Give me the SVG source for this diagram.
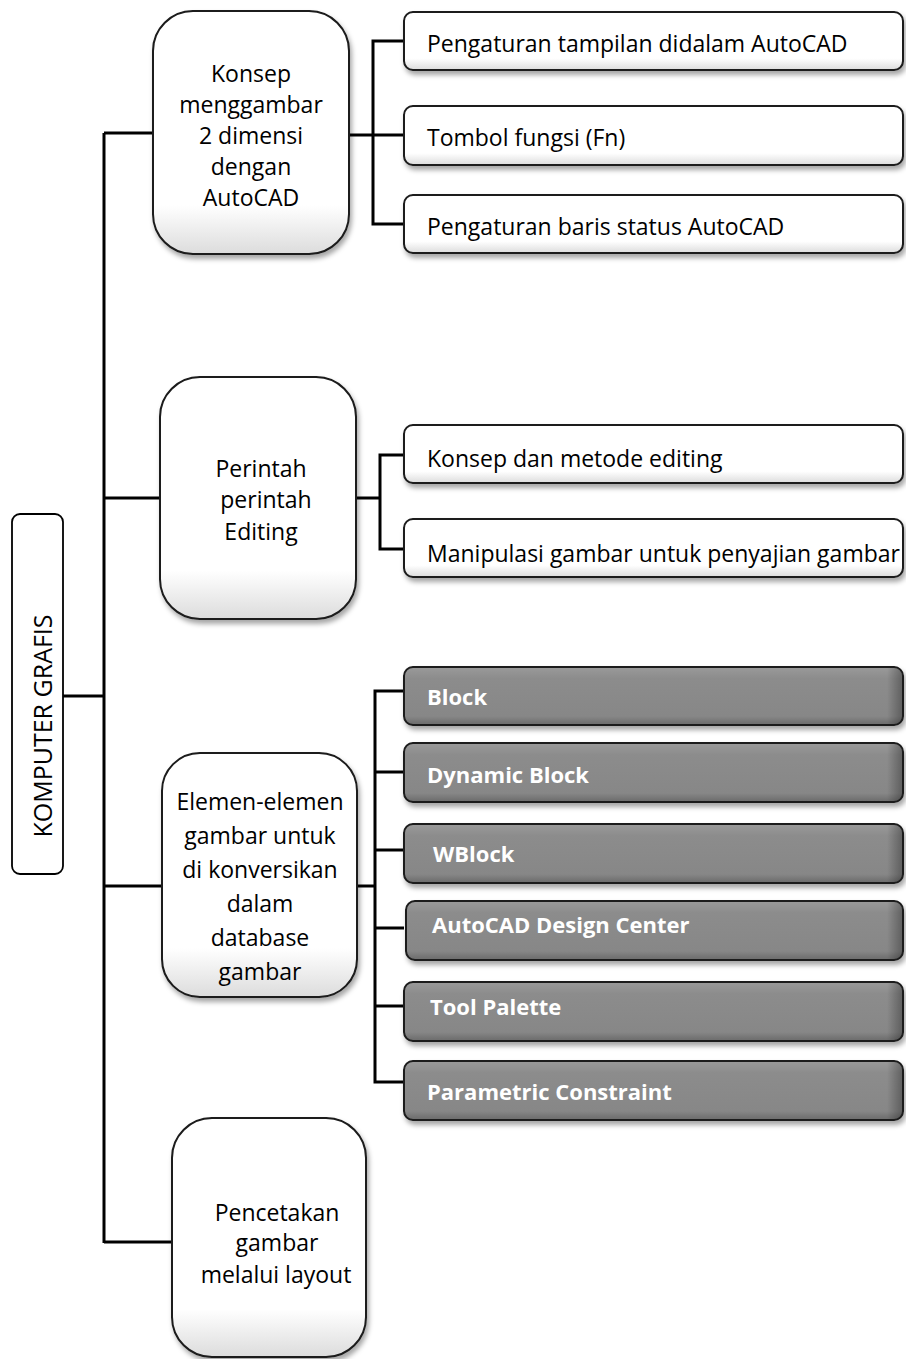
<svg xmlns="http://www.w3.org/2000/svg" width="906" height="1359" viewBox="0 0 906 1359">
<defs>
<filter id="sh" x="-10%" y="-10%" width="125%" height="130%">
<feDropShadow dx="2" dy="4" stdDeviation="2.5" flood-color="#000" flood-opacity="0.35"/>
</filter>
<linearGradient id="wg" x1="0" y1="0" x2="0" y2="1">
<stop offset="0" stop-color="#ffffff"/>
<stop offset="0.8" stop-color="#ffffff"/>
<stop offset="1" stop-color="#dcdcdc"/>
</linearGradient>
<linearGradient id="dg" x1="0" y1="0" x2="0" y2="1">
<stop offset="0" stop-color="#9a9a9a"/>
<stop offset="0.2" stop-color="#8c8c8c"/>
<stop offset="0.85" stop-color="#878787"/>
<stop offset="1" stop-color="#6a6a6a"/>
</linearGradient>
<linearGradient id="dgh" x1="0" y1="0" x2="1" y2="0">
<stop offset="0" stop-color="#000" stop-opacity="0"/>
<stop offset="0.97" stop-color="#000" stop-opacity="0"/>
<stop offset="1" stop-color="#000" stop-opacity="0.3"/>
</linearGradient>
</defs>
<style>
.t{font-family:"Open Sans","Liberation Sans",sans-serif;font-size:23px;fill:#000}
.c{text-anchor:middle}
.b{font-family:"Open Sans","Liberation Sans",sans-serif;font-size:22px;font-weight:bold;fill:#fff}
.node{fill:url(#wg);stroke:#1a1a1a;stroke-width:2;filter:url(#sh)}
.leaf{fill:url(#wg);stroke:#1a1a1a;stroke-width:2;filter:url(#sh)}
.dark{fill:url(#dg);stroke:#1a1a1a;stroke-width:2;filter:url(#sh)}
.dov{fill:url(#dgh);stroke:none}
.root{fill:#fff;stroke:#000;stroke-width:1.8}
.con{fill:none;stroke:#000;stroke-width:3}
</style>
<rect width="906" height="1359" fill="#fff"/>

<g id="connectors">
<path class="con" d="M104 133 V1243"/>
<path class="con" d="M63 696 H104"/>
<path class="con" d="M104 133 H153"/>
<path class="con" d="M104 498 H160"/>
<path class="con" d="M104 886 H162"/>
<path class="con" d="M104 1242 H172"/>
<path class="con" d="M349 135 H404"/>
<path class="con" d="M404 41 H373 V224 H404"/>
<path class="con" d="M356 498 H380"/>
<path class="con" d="M404 455 H380 V549 H404"/>
<path class="con" d="M357 886 H375"/>
<path class="con" d="M404 691 H375 V1082 H404"/>
<path class="con" d="M375 772 H404 M375 850 H404 M375 928 H404 M375 1006 H404"/>
</g>

<g id="root">
<rect class="root" x="12" y="514" width="51" height="360" rx="8"/>
<text class="t c" font-size="25" transform="translate(52 726) rotate(-90)" style="font-size:25px">KOMPUTER GRAFIS</text>
</g>

<g id="n1">
<rect class="node" x="153" y="11" width="196" height="243" rx="40"/>
<text class="t c" x="251" y="82">Konsep</text>
<text class="t c" x="251" y="113">menggambar</text>
<text class="t c" x="251" y="144">2 dimensi</text>
<text class="t c" x="251" y="175">dengan</text>
<text class="t c" x="251" y="206">AutoCAD</text>
</g>

<g id="n1a">
<rect class="leaf" x="404" y="12" width="499" height="58" rx="9"/>
<text class="t" x="427" y="52">Pengaturan tampilan didalam AutoCAD</text>
</g>
<g id="n1b">
<rect class="leaf" x="404" y="106" width="499" height="59" rx="9"/>
<text class="t" x="427" y="146">Tombol fungsi (Fn)</text>
</g>
<g id="n1c">
<rect class="leaf" x="404" y="195" width="499" height="58" rx="9"/>
<text class="t" x="427" y="235">Pengaturan baris status AutoCAD</text>
</g>

<g id="n2">
<rect class="node" x="160" y="377" width="196" height="242" rx="40"/>
<text class="t c" x="261" y="477">Perintah</text>
<text class="t c" x="266" y="508">perintah</text>
<text class="t c" x="261" y="540">Editing</text>
</g>

<g id="n2a">
<rect class="leaf" x="404" y="425" width="499" height="58" rx="9"/>
<text class="t" x="427" y="467">Konsep dan metode editing</text>
</g>
<g id="n2b">
<rect class="leaf" x="404" y="519" width="499" height="58" rx="9"/>
<text class="t" x="427" y="562">Manipulasi gambar untuk penyajian gambar</text>
</g>

<g id="n3">
<rect class="node" x="162" y="753" width="195" height="244" rx="38"/>
<text class="t c" x="260" y="810">Elemen-elemen</text>
<text class="t c" x="260" y="844">gambar untuk</text>
<text class="t c" x="260" y="878">di konversikan</text>
<text class="t c" x="260" y="912">dalam</text>
<text class="t c" x="260" y="946">database</text>
<text class="t c" x="260" y="980">gambar</text>
</g>

<g id="n3a">
<rect class="dark" x="404" y="667" width="499" height="58" rx="9"/>
<rect class="dov" x="405" y="668" width="497" height="56" rx="8"/>
<text class="b" x="427" y="705">Block</text>
</g>
<g id="n3b">
<rect class="dark" x="404" y="743" width="499" height="59" rx="9"/>
<rect class="dov" x="405" y="744" width="497" height="57" rx="8"/>
<text class="b" x="427" y="783">Dynamic Block</text>
</g>
<g id="n3c">
<rect class="dark" x="404" y="824" width="499" height="59" rx="9"/>
<rect class="dov" x="405" y="825" width="497" height="57" rx="8"/>
<text class="b" x="433" y="862">WBlock</text>
</g>
<g id="n3d">
<rect class="dark" x="406" y="901" width="497" height="59" rx="9"/>
<rect class="dov" x="407" y="902" width="495" height="57" rx="8"/>
<text class="b" x="432" y="933">AutoCAD Design Center</text>
</g>
<g id="n3e">
<rect class="dark" x="404" y="982" width="499" height="59" rx="9"/>
<rect class="dov" x="405" y="983" width="497" height="57" rx="8"/>
<text class="b" x="430" y="1015">Tool Palette</text>
</g>
<g id="n3f">
<rect class="dark" x="404" y="1061" width="499" height="59" rx="9"/>
<rect class="dov" x="405" y="1062" width="497" height="57" rx="8"/>
<text class="b" x="427" y="1100">Parametric Constraint</text>
</g>

<g id="n4">
<rect class="node" x="172" y="1118" width="194" height="239" rx="40"/>
<text class="t c" x="277" y="1221">Pencetakan</text>
<text class="t c" x="277" y="1251">gambar</text>
<text class="t c" x="276" y="1283">melalui layout</text>
</g>
</svg>
